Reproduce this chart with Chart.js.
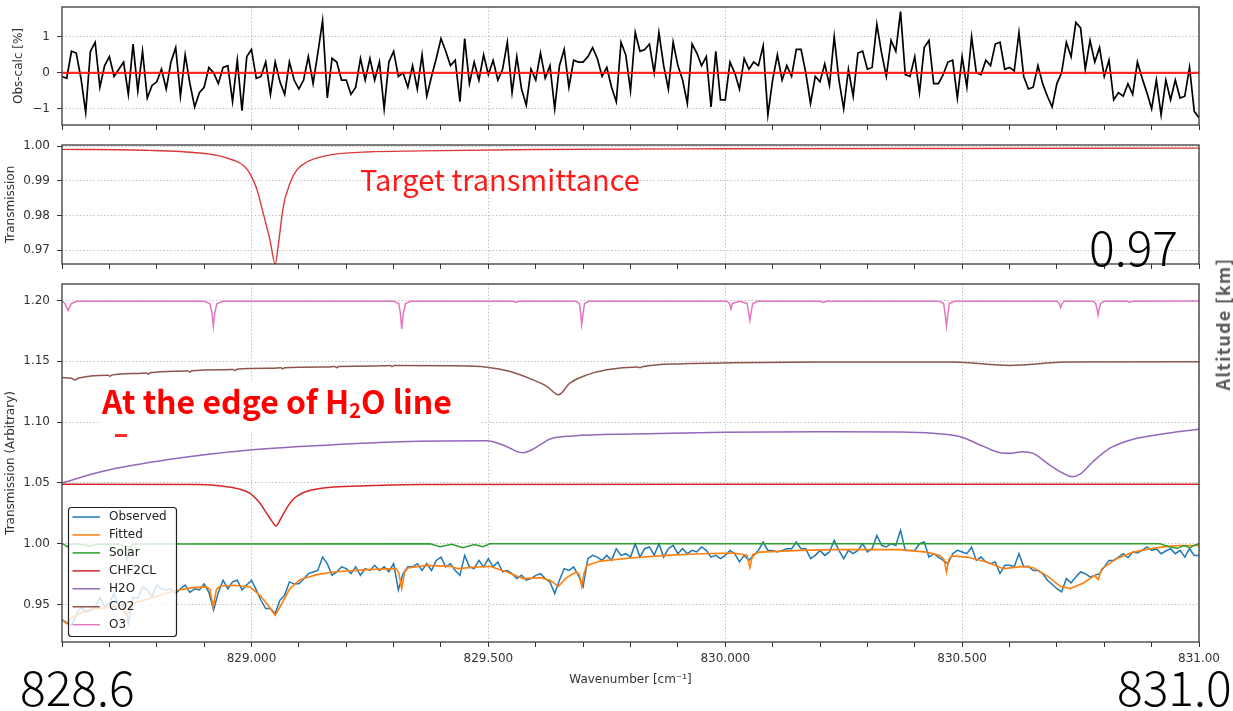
<!DOCTYPE html>
<html><head><meta charset="utf-8">
<script src="https://cdn.jsdelivr.net/npm/chart.js@4.4.0/dist/chart.umd.min.js"></script>
<style>
html,body{margin:0;padding:0;background:#fff;}
body{width:1233px;height:711px;position:relative;overflow:hidden;font-family:"DejaVu Sans",sans-serif;}
canvas{position:absolute;left:0;}
.ann{position:absolute;white-space:nowrap;line-height:1;}
.big{font-family:"Noto Sans CJK JP";font-weight:300;font-size:48px;color:#000;}
</style></head><body>
<canvas id="c1" width="1233" height="143" style="top:-3px"></canvas>
<canvas id="c2" width="1233" height="140" style="top:135px"></canvas>
<canvas id="c3" width="1233" height="437" style="top:274px"></canvas>
<div class="ann" style="left:100px;top:380px;width:381px;height:52px;background:#fff;"></div>
<div class="ann" style="left:115px;top:434px;width:12px;height:3px;background:#ff2a2a;"></div>
<div class="ann" style="left:360px;top:164px;font-family:'Noto Sans CJK JP';font-size:29px;color:#ff1a1a;">Target transmittance</div>
<div class="ann" style="left:102px;top:384px;font-family:'Noto Sans CJK JP';font-weight:bold;font-size:32px;color:#ff0000;">At the edge of H<span style="font-size:0.62em;vertical-align:-0.22em;">2</span>O line</div>
<div class="ann big" style="left:1089px;top:221px;">0.97</div>
<div class="ann big" style="left:20px;top:661px;">828.6</div>
<div class="ann big" style="left:1117px;top:661px;">831.0</div>
<div class="ann" style="left:1222px;top:324px;transform:translate(-50%,-50%) rotate(-90deg);font-family:'Noto Sans CJK JP';font-weight:bold;font-size:18px;letter-spacing:1.2px;color:#595959;">Altitude [km]</div>
<script>
// ---------- axis data ----------
const xMin = 828.6, xMax = 831.0;
const xTickValues = [828.6,828.7,828.8,828.9,829.0,829.1,829.2,829.3,829.4,829.5,829.6,829.7,829.8,829.9,830.0,830.1,830.2,830.3,830.4,830.5,830.6,830.7,830.8,830.9,831.0];
const xMajorValues = [829.0,829.5,830.0,830.5,831.0];
const xMajorLabels = ['829.000','829.500','830.000','830.500','831.00'];
const y1Ticks = [-1,0,1];
const y1Labels = ['\u22121','0','1'];
const y2Ticks = [0.97,0.98,0.99,1.00];
const y2Labels = ['0.97','0.98','0.99','1.00'];
const y3Ticks = [0.95,1.00,1.05,1.10,1.15,1.20];
const y3Labels = ['0.95','1.00','1.05','1.10','1.15','1.20'];

// ---------- sampled spectra (uniform grid) ----------
const gridStart = 828.6, gridStep = 0.01;
const residual = [
-0.1,-0.15,0.6,0.55,-0.15,-1.1,0.6,0.85,-0.4,0.2,
0.45,-0.1,0.1,0.3,-0.6,0.8,-0.5,0.6,-0.7,-0.35,
-0.25,0.1,-0.45,0.3,0.7,-0.65,0.5,-0.3,-0.95,-0.55,
-0.4,0.15,0.0,-0.3,0.15,0.2,-0.8,0.35,-1.05,0.45,
0.65,-0.15,-0.1,0.3,-0.6,0.3,-0.25,-0.6,0.3,-0.2,
-0.45,-0.2,0.45,-0.3,0.55,1.45,-0.7,0.4,0.3,-0.2,
-0.2,-0.6,-0.4,0.4,-0.2,0.4,-0.2,0.3,-1.0,0.3,
0.6,-0.1,0.0,-0.4,0.2,-0.45,0.5,-0.65,-0.1,0.4,
0.95,0.6,0.2,0.35,-0.8,0.95,-0.3,0.3,-0.2,0.5,
-0.05,0.35,-0.2,0.1,0.85,-0.55,0.45,-0.45,-0.9,0.1,
-0.2,0.55,-0.15,0.2,-1.0,0.2,0.65,-0.4,0.35,0.3,
0.3,0.45,0.7,0.4,-0.1,0.15,-0.4,-0.8,0.85,0.5,
-0.5,1.12,0.6,0.65,0.8,0.0,1.12,0.2,-0.45,0.85,
0.2,-0.2,-0.85,0.8,0.55,0.2,0.45,-0.95,0.6,-0.75,
-0.75,0.3,0.0,-0.45,0.4,0.1,0.3,0.2,0.75,-1.17,
-0.2,0.5,-0.2,0.2,-0.1,0.65,0.65,0.0,-0.85,-0.1,
-0.25,0.25,-0.35,1.0,-0.2,-1.0,0.1,-0.65,0.55,0.6,
0.1,0.15,1.35,0.55,-0.1,0.9,0.6,1.7,-0.05,-0.1,
0.45,-0.55,0.7,0.9,-0.3,-0.3,-0.05,0.3,0.35,-0.7,
0.45,-0.4,1.0,0.0,-0.05,0.35,0.2,0.8,0.85,0.1,
0.15,0.05,1.12,-0.1,-0.45,-0.4,0.2,-0.3,-0.65,-0.95,
-0.3,0.0,0.85,0.45,1.4,1.25,0.1,0.9,0.3,0.7,
-0.1,0.35,-0.75,-0.55,-0.65,-0.3,-0.6,0.3,-0.15,-0.55,
-1.0,-0.2,-1.17,-0.2,-0.75,-0.2,-0.7,-0.65,0.15,-1.07,
-1.25];
const observed = [
0.9377,0.935,0.933,0.9413,0.948,0.944,0.945,0.948,0.956,0.948,
0.951,0.959,0.948,0.951,0.9345,0.956,0.955,0.9645,0.962,0.956,
0.966,0.963,0.962,0.963,0.959,0.963,0.966,0.960,0.963,0.962,
0.967,0.960,0.9454,0.960,0.970,0.963,0.9686,0.970,0.962,0.966,
0.970,0.962,0.9535,0.9467,0.9467,0.9426,0.9535,0.9577,0.9686,0.967,
0.967,0.971,0.9754,0.9768,0.978,0.989,0.9836,0.974,0.9768,0.981,
0.9795,0.9754,0.981,0.974,0.9795,0.978,0.9822,0.978,0.981,0.977,
0.9836,0.962,0.9754,0.981,0.981,0.9836,0.978,0.9836,0.978,0.9863,
0.989,0.981,0.9836,0.978,0.974,0.9904,0.981,0.9795,0.9863,0.981,
0.9877,0.981,0.985,0.9768,0.978,0.9754,0.9713,0.974,0.970,0.9713,
0.974,0.9754,0.9713,0.9686,0.959,0.970,0.9795,0.978,0.981,0.974,
0.9645,0.9877,0.9904,0.989,0.9863,0.9904,0.9863,0.9959,0.9904,0.9918,
0.989,1.0,0.989,0.9959,0.9973,0.9904,1.0,0.989,0.9959,0.9986,
0.9918,0.9959,0.9918,0.9945,0.9932,0.9973,0.9945,0.989,0.9904,0.9877,
0.9904,0.9945,0.9918,0.985,0.9904,0.9863,0.9904,0.9945,1.0014,0.9945,
0.9945,0.9932,0.9945,0.9959,0.9959,1.0014,0.9959,0.9959,0.9877,0.9904,
0.9945,0.9904,0.9932,1.0027,0.9945,0.9877,0.9945,0.9918,0.9945,1.0,
0.9932,0.9959,1.0068,0.9986,0.9973,1.0,0.9986,1.011,0.9945,0.9945,
0.9945,1.0,1.0014,0.989,0.9918,0.989,0.9863,0.9836,0.9918,0.9945,
0.9932,0.9918,0.9973,0.9863,0.989,0.985,0.9836,0.985,0.9754,0.9822,
0.9822,0.981,0.9918,0.981,0.9814,0.978,0.978,0.9754,0.970,0.9667,
0.963,0.9604,0.9713,0.9678,0.9727,0.9768,0.9754,0.9727,0.974,0.9754,
0.981,0.9863,0.9863,0.989,0.9918,0.9885,0.9932,0.9923,0.9945,0.9973,
0.9945,0.9959,0.9918,0.994,0.9959,0.9918,0.9945,0.989,0.9959,0.9904,
0.9904];

// ---------- smooth model curves (wavenumber, value) ----------
const zeroWn = [828.6, 831.0];
const zeroVal = [0, 0];

const targetWn = [828.600,828.786,828.891,828.927,828.962,828.983,828.997,829.011,829.025,829.039,829.050,829.057,829.067,829.081,829.095,829.117,829.145,829.173,829.243,829.356,829.600,830.000,830.500,831.000];
const targetVal = [0.99904,0.99875,0.9980,0.9973,0.9959,0.9944,0.9920,0.9877,0.9805,0.9729,0.9660,0.9719,0.9825,0.9892,0.9930,0.9954,0.9968,0.9976,0.9983,0.9986,0.9990,0.9992,0.9993,0.9994];

const fittedWn = [828.600,828.610,828.620,828.652,828.715,828.727,828.737,828.746,828.807,828.842,828.877,828.905,828.912,828.919,828.926,828.933,828.962,828.997,829.018,829.032,829.050,829.064,829.081,829.102,829.138,829.173,829.243,829.305,829.311,829.317,829.323,829.330,829.370,829.419,829.436,829.475,829.503,829.539,829.574,829.609,829.630,829.648,829.665,829.686,829.692,829.697,829.702,829.708,829.736,829.805,829.876,829.947,830.017,830.046,830.052,830.058,830.073,830.158,830.228,830.299,830.369,830.425,830.453,830.462,830.467,830.472,830.478,830.510,830.552,830.587,830.629,830.650,830.678,830.707,830.728,830.756,830.780,830.787,830.795,830.826,830.861,830.897,830.932,830.960,831.000];
const fittedVal = [0.9377,0.9344,0.9390,0.9453,0.9486,0.9490,0.9397,0.9505,0.9576,0.9617,0.9639,0.9645,0.9625,0.9480,0.9625,0.9650,0.9658,0.9644,0.9576,0.9508,0.9412,0.9508,0.9631,0.9705,0.9746,0.9767,0.9787,0.9795,0.9760,0.9631,0.9765,0.9800,0.9822,0.9814,0.9795,0.9808,0.9814,0.9767,0.9713,0.9721,0.9699,0.9650,0.9721,0.9767,0.9745,0.9650,0.9760,0.9822,0.9857,0.9885,0.9904,0.9918,0.9923,0.9905,0.9803,0.9910,0.9931,0.9945,0.9951,0.9951,0.9951,0.9931,0.9904,0.9870,0.9767,0.9870,0.9900,0.9890,0.9849,0.9795,0.9814,0.9803,0.9740,0.9650,0.9631,0.9677,0.9740,0.9705,0.9795,0.9877,0.9931,0.9959,0.9978,0.9985,0.9985];

const solarWn = [828.600,828.604,828.611,828.618,828.630,828.650,828.660,828.672,828.722,828.732,828.737,828.742,828.752,829.377,829.398,829.423,829.446,829.470,829.489,829.503,830.918,830.939,830.954,830.968,830.981,830.992,831.000];
const solarVal = [1.0000,0.9995,0.9975,0.9995,1.0000,0.9990,0.9978,0.9995,0.9998,0.9970,0.9865,0.9970,0.9998,1.0000,0.9975,0.9995,0.9968,0.9993,0.9975,1.0000,1.0000,0.9972,0.9962,0.9985,0.9968,0.9990,1.0000];

const chfWn = [828.600,828.891,828.948,828.976,828.997,829.018,829.032,829.043,829.052,829.060,829.074,829.088,829.109,829.138,829.173,829.243,829.356,830.000,831.000];
const chfVal = [1.0488,1.0486,1.0468,1.0447,1.0414,1.0332,1.0249,1.0186,1.0145,1.0194,1.0290,1.0365,1.0419,1.0450,1.0466,1.0477,1.0486,1.0488,1.0488];

const h2oWn = [828.600,828.680,828.828,828.997,829.166,829.313,829.497,829.525,829.546,829.560,829.573,829.591,829.609,829.630,829.679,829.805,829.999,830.200,830.369,830.439,830.496,830.538,830.580,830.601,830.628,830.650,830.685,830.713,830.731,830.749,830.776,830.812,830.861,830.933,831.000];
const h2oVal = [1.0499,1.0590,1.0694,1.0771,1.0812,1.0838,1.0847,1.0820,1.0785,1.0757,1.0748,1.0770,1.0812,1.0861,1.0886,1.0902,1.0916,1.0921,1.0919,1.0908,1.0880,1.0812,1.0748,1.0743,1.0757,1.0743,1.0647,1.0579,1.0551,1.0573,1.0674,1.0785,1.0859,1.0908,1.0941];

const co2Wn = [828.600,828.620,828.627,828.634,828.660,828.697,828.701,828.705,828.760,828.778,828.782,828.786,828.850,828.866,828.870,828.874,828.945,828.961,828.965,828.969,829.045,829.062,829.066,829.070,829.160,829.176,829.180,829.184,829.275,829.293,829.297,829.301,829.419,829.497,829.546,829.594,829.624,829.648,829.672,829.708,829.750,829.815,829.820,829.825,829.911,830.016,830.200,830.480,830.601,830.720,831.000];
const co2Val = [1.1366,1.1360,1.1347,1.1360,1.1378,1.1385,1.1377,1.1386,1.1400,1.1404,1.1394,1.1405,1.1418,1.1420,1.1410,1.1421,1.1430,1.1433,1.1423,1.1434,1.1442,1.1446,1.1437,1.1447,1.1453,1.1456,1.1447,1.1457,1.1462,1.1464,1.1456,1.1465,1.1463,1.1451,1.1415,1.1347,1.1292,1.1224,1.1320,1.1388,1.1430,1.1453,1.1447,1.1455,1.1479,1.1487,1.1493,1.1493,1.1465,1.1493,1.1495];

const o3Wn = [828.600,828.606,828.613,828.620,828.632,828.900,828.912,828.9165,828.9194,828.9225,828.927,828.940,829.300,829.311,829.3145,829.317,829.3205,829.325,829.336,829.552,829.558,829.564,829.684,829.692,829.6945,829.697,829.700,829.703,829.712,830.003,830.009,830.012,830.015,830.030,830.046,830.049,830.052,830.055,830.058,830.068,830.200,830.207,830.214,830.452,830.461,830.464,830.467,830.470,830.473,830.484,830.700,830.705,830.708,830.711,830.716,830.776,830.782,830.785,830.787,830.789,830.792,830.800,830.848,830.854,830.860,831.000];
const o3Val = [1.1995,1.1975,1.1918,1.1975,1.1993,1.1993,1.1975,1.1900,1.1786,1.1900,1.1975,1.1993,1.1993,1.1975,1.1890,1.1765,1.1890,1.1975,1.1993,1.1993,1.1983,1.1993,1.1993,1.1975,1.1900,1.1800,1.1900,1.1975,1.1993,1.1993,1.1975,1.1930,1.1975,1.1993,1.1975,1.1910,1.1835,1.1910,1.1975,1.1993,1.1993,1.1983,1.1993,1.1993,1.1975,1.1890,1.1790,1.1890,1.1975,1.1993,1.1993,1.1975,1.1940,1.1975,1.1993,1.1993,1.1975,1.1925,1.1880,1.1925,1.1975,1.1993,1.1993,1.1985,1.1993,1.1995];

// ---------- helpers ----------
const pairs = (xs, ys) => xs.map((x, i) => ({x: x, y: ys[i]}));
const gridPairs = (vals) => vals.map((v, i) => ({x: gridStart + i * gridStep, y: v}));
const isMajor = v => xMajorValues.some(m => Math.abs(m - v) < 1e-6);
const TXT = '#333';
const GRID = '#c2c2c2';
const FONT = {family: 'DejaVu Sans', size: 12};

function xScale(showLabels, height, title) {
  return {
    type: 'linear', min: xMin, max: xMax,
    afterBuildTicks: s => { s.ticks = xTickValues.map(v => ({value: v})); },
    afterFit: s => { s.height = height; s.paddingLeft = 0; s.paddingRight = 0; },
    ticks: {
      display: showLabels, autoSkip: false, maxRotation: 0, minRotation: 0, padding: 5,
      color: TXT, font: FONT,
      callback: v => { const k = xMajorValues.findIndex(m => Math.abs(m - v) < 1e-6); return k >= 0 ? xMajorLabels[k] : ''; }
    },
    grid: {
      color: c => (c.tick && isMajor(c.tick.value)) ? GRID : 'rgba(0,0,0,0)',
      tickColor: '#333', tickLength: 5, lineWidth: 1
    },
    border: {display: false, dash: [1.5, 2]},
    title: title ? {display: true, text: title, color: TXT, font: FONT, padding: {top: 0, bottom: 24}} : {display: false}
  };
}
function yScale(min, max, ticks, labels, title, titlePad) {
  return {
    type: 'linear', min: min, max: max,
    afterBuildTicks: s => { s.ticks = ticks.map(v => ({value: v})); },
    afterFit: s => { s.width = 62; s.paddingTop = 0; s.paddingBottom = 0; },
    ticks: {
      padding: 7, color: TXT, font: FONT,
      callback: v => { const k = ticks.findIndex(t => Math.abs(t - v) < 1e-9); return k >= 0 ? labels[k] : ''; }
    },
    grid: {color: GRID, tickColor: '#333', tickLength: 5, lineWidth: 1},
    border: {display: false, dash: [1.5, 2]},
    title: {display: true, text: title, color: TXT, font: FONT, padding: {top: titlePad, bottom: 0}}
  };
}
const framePlugin = {
  id: 'frame',
  afterDraw(chart) {
    const {ctx, chartArea: a} = chart;
    ctx.save();
    ctx.strokeStyle = '#3a3a3a';
    ctx.lineWidth = 1.3;
    ctx.strokeRect(a.left, a.top, a.right - a.left, a.bottom - a.top);
    ctx.restore();
  }
};
const legendPlugin = {
  id: 'innerLegend',
  afterDatasetsDraw(chart) {
    const ctx = chart.ctx, a = chart.chartArea;
    const x0 = a.left + 6, y0 = a.top + 223, w = 108, h = 129;
    ctx.save();
    ctx.fillStyle = 'rgba(255,255,255,0.8)';
    ctx.strokeStyle = '#222';
    ctx.lineWidth = 1.2;
    ctx.beginPath();
    ctx.roundRect(x0 + 0.5, y0 + 0.5, w, h, 3);
    ctx.fill();
    ctx.stroke();
    chart.data.datasets.forEach((d, i) => {
      const y = y0 + 10 + i * 17.95;
      ctx.strokeStyle = d.borderColor;
      ctx.lineWidth = 1.5;
      ctx.beginPath();
      ctx.moveTo(x0 + 4.5, y);
      ctx.lineTo(x0 + 32, y);
      ctx.stroke();
      ctx.fillStyle = '#222';
      ctx.font = '12px "DejaVu Sans"';
      ctx.textBaseline = 'middle';
      ctx.fillText(d.label, x0 + 41, y);
    });
    ctx.restore();
  }
};
function baseOptions(x, y) {
  return {
    responsive: false, animation: false, devicePixelRatio: 1, events: [],
    layout: {padding: {top: 10, left: 0, right: 34, bottom: 0}},
    plugins: {legend: {display: false}, tooltip: {enabled: false}},
    elements: {point: {radius: 0}, line: {borderWidth: 1.5, tension: 0}},
    scales: {x: x, y: y}
  };
}
function line(label, data, color, width, order, extra) {
  return Object.assign({label: label, data: data, borderColor: color, backgroundColor: color,
    borderWidth: width, pointRadius: 0, fill: false, order: order}, extra || {});
}

// ---------- panel 1: residual ----------
new Chart(document.getElementById('c1'), {
  type: 'line',
  data: {datasets: [
    line('zero', pairs(zeroWn, zeroVal), 'rgba(255,20,20,0.9)', 2.2, 0),
    line('Obs-calc', gridPairs(residual), '#000000', 1.7, 1)
  ]},
  options: baseOptions(xScale(false, 15), yScale(-1.45, 1.83, y1Ticks, y1Labels, 'Obs-calc [%]', 12)),
  plugins: [framePlugin]
});

// ---------- panel 2: target transmission ----------
new Chart(document.getElementById('c2'), {
  type: 'line',
  data: {datasets: [
    line('Target', pairs(targetWn, targetVal), '#dc3a3a', 1.4, 0, {cubicInterpolationMode: 'monotone'})
  ]},
  options: baseOptions(xScale(false, 11), yScale(0.966, 1.0003, y2Ticks, y2Labels, 'Transmission', 3.5)),
  plugins: [framePlugin]
});

// ---------- panel 3: components ----------
new Chart(document.getElementById('c3'), {
  type: 'line',
  data: {datasets: [
    line('Observed', gridPairs(observed), '#1f77b4', 1.5, 7),
    line('Fitted', pairs(fittedWn, fittedVal), '#ff7f0e', 1.6, 6),
    line('Solar', pairs(solarWn, solarVal), '#2ca02c', 1.5, 5),
    line('CHF2CL', pairs(chfWn, chfVal), '#d62728', 1.5, 4, {cubicInterpolationMode: 'monotone'}),
    line('H2O', pairs(h2oWn, h2oVal), '#9467bd', 1.5, 3, {cubicInterpolationMode: 'monotone'}),
    line('CO2', pairs(co2Wn, co2Val), '#8c564b', 1.5, 2, {cubicInterpolationMode: 'monotone'}),
    line('O3', pairs(o3Wn, o3Val), '#e377c2', 1.5, 1)
  ]},
  options: baseOptions(xScale(true, 69, 'Wavenumber [cm\u207B\u00B9]'), yScale(0.9192, 1.2135, y3Ticks, y3Labels, 'Transmission (Arbitrary)', 3.5)),
  plugins: [framePlugin, legendPlugin]
});
</script>
</body></html>
